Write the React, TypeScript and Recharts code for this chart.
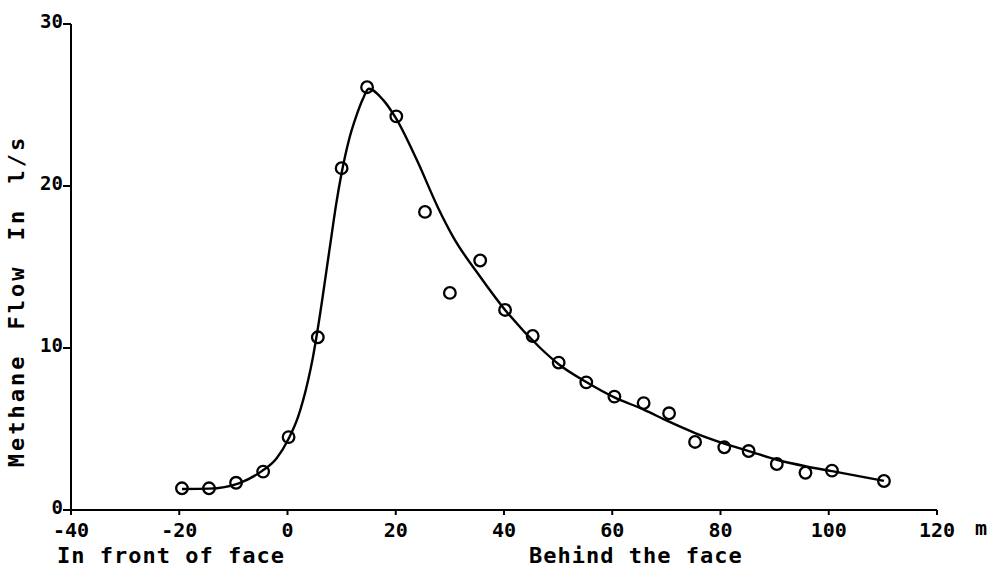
import { ComposedChart, Line, Scatter, XAxis, YAxis } from 'recharts';

// measured points (distance from face in m, methane flow in l/s)
const pointX = [-19.5, -14.5, -9.5, -4.5, 0.2, 5.6, 10, 14.7, 20.1, 25.4, 30, 35.6, 40.2, 45.3, 50.1, 55.2, 60.4, 65.8, 70.5, 75.3, 80.7, 85.2, 90.4, 95.7, 100.6, 110.2];
const pointY = [1.34, 1.34, 1.68, 2.37, 4.5, 10.66, 21.1, 26.1, 24.3, 18.4, 13.4, 15.4, 12.35, 10.74, 9.1, 7.88, 7.0, 6.6, 5.97, 4.2, 3.87, 3.64, 2.84, 2.3, 2.43, 1.79];

// fitted curve
const curveX = [-19.5, -14.5, -9, -4.75, -2, 0.2, 2, 3.8, 4.66, 5.6, 7.9, 9, 10, 11.4, 12.8, 13.9, 15, 17.7, 20, 23.9, 27.9, 30.7, 35.6, 40.2, 46.7, 50.1, 55.2, 60.4, 65.8, 70.5, 75.3, 80.7, 85.2, 90.4, 95.7, 100.6, 110.2];
const curveY = [1.3, 1.32, 1.65, 2.4, 3.2, 4.4, 5.8, 8.0, 9.36, 11.2, 16.4, 18.9, 20.8, 22.9, 24.4, 25.35, 26.0, 25.3, 24.2, 21.6, 18.6, 16.8, 14.4, 12.35, 10.0, 9.0, 7.9, 6.95, 6.2, 5.45, 4.75, 4.1, 3.64, 3.1, 2.7, 2.4, 1.8];

const xTicks = [-40, -20, 0, 20, 40, 60, 80, 100, 120];
const yTicks = [0, 10, 20, 30];

const points = pointX.map((x, i) => ({ x, y: pointY[i] }));
const curve = curveX.map((x, i) => ({ x, y: curveY[i] }));

const FONT = '"DejaVu Sans Mono", monospace';
const xTickStyle = { fontFamily: FONT, fontSize: 20, fontWeight: 700, fill: '#000' };
const yTickStyle = { fontFamily: FONT, fontSize: 19, fontWeight: 700, fill: '#000' };

const Ring = (props: any) => (
  <circle cx={props.cx} cy={props.cy} r={5.8} fill="none" stroke="#000" strokeWidth={2.3} />
);

// y tick labels sit a touch above the tick, as in the original
const YTick = (props: any) => (
  <text x={props.x} y={props.y} dy={-2} textAnchor="end" dominantBaseline="middle" {...yTickStyle}>
    {props.payload.value}
  </text>
);

export default function App() {
  return (
    <div style={{ position: 'relative', width: 997, height: 567, background: '#fff', fontFamily: FONT }}>
      <style>{'body{margin:0}'}</style>
      <ComposedChart width={997} height={567} margin={{ top: 24, right: 60, left: 0, bottom: 27 }}>
        <XAxis
          type="number"
          dataKey="x"
          domain={[-40, 120]}
          ticks={xTicks}
          allowDataOverflow
          height={30}
          stroke="#000"
          strokeWidth={2}
          tickSize={5}
          tickMargin={8}
          tick={xTickStyle}
        />
        <YAxis
          type="number"
          dataKey="y"
          domain={[0, 30]}
          ticks={yTicks}
          width={71}
          stroke="#000"
          strokeWidth={2}
          tickSize={8}
          tickMargin={0}
          tick={YTick}
        />
        <Line
          data={curve}
          dataKey="y"
          type="monotone"
          stroke="#000"
          strokeWidth={2.4}
          dot={false}
          activeDot={false}
          isAnimationActive={false}
        />
        <Scatter data={points} dataKey="y" shape={Ring} isAnimationActive={false} />
      </ComposedChart>
      <span style={{ position: 'absolute', left: 975, top: 517, fontSize: 20, lineHeight: '22px', fontWeight: 700 }}>m</span>
      <span style={{ position: 'absolute', left: 57, top: 545, fontSize: 22, lineHeight: '22px', fontWeight: 700, letterSpacing: 1, whiteSpace: 'pre' }}>
        In front of face
      </span>
      <span style={{ position: 'absolute', left: 529, top: 545, fontSize: 22, lineHeight: '22px', fontWeight: 700, letterSpacing: 1, whiteSpace: 'pre' }}>
        Behind the face
      </span>
      <span
        style={{
          position: 'absolute',
          left: 17,
          top: 301,
          fontSize: 22,
          lineHeight: '22px',
          fontWeight: 700,
          letterSpacing: 3,
          wordSpacing: 8,
          whiteSpace: 'pre',
          transform: 'translate(-50%, -50%) rotate(-90deg)',
        }}
      >
        Methane Flow In l/s
      </span>
    </div>
  );
}
